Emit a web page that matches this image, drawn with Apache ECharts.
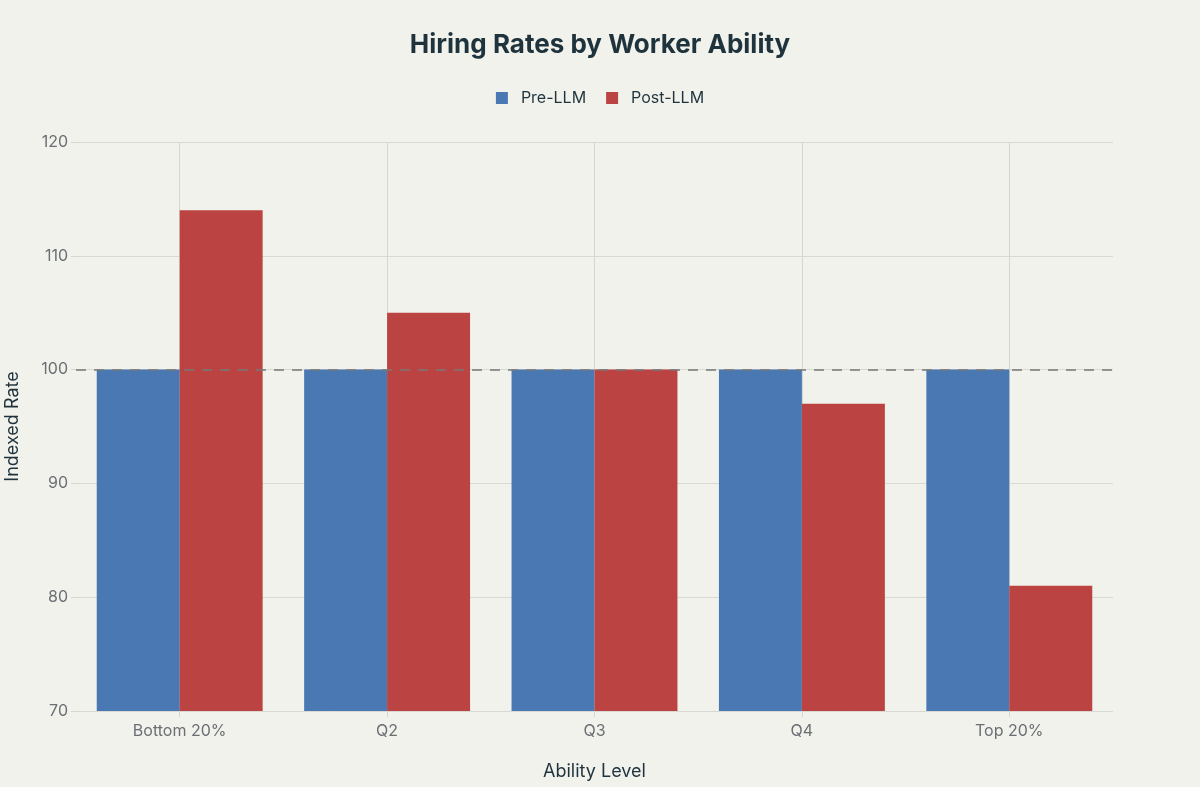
<!DOCTYPE html>
<html><head><meta charset="utf-8">
<script src="https://cdn.jsdelivr.net/npm/echarts@6/dist/echarts.min.js"></script>
<style>html,body{margin:0;padding:0;background:#f2f2ed;}#c{width:1200px;height:787px;}</style>
</head><body><div id="c"></div>
<script>
const categories = ['Bottom 20%', 'Q2', 'Q3', 'Q4', 'Top 20%'];
const preLLM = [100, 100, 100, 100, 100];
const postLLM = [114, 105, 100, 97, 81];
const yTicks = { min: 70, max: 120, interval: 10 };
const baseline = 100;

const chart = echarts.init(document.getElementById('c'));
chart.setOption({
  backgroundColor: '#f2f2ed',
  animation: false,
  textStyle: { fontFamily: 'Inter, "Noto Sans", sans-serif' },
  title: {
    text: 'Hiring Rates by Worker Ability',
    left: 'center', top: 27,
    textStyle: { fontSize: 26, fontWeight: 'bold', color: '#1f333d', fontFamily: 'Inter, sans-serif' }
  },
  legend: {
    top: 85, left: 'center',
    itemWidth: 12, itemHeight: 12, itemGap: 20,
    icon: 'rect',
    textStyle: { fontSize: 16, color: '#1f333d', padding: [0, 0, 0, 8] },
    data: ['Pre-LLM', 'Post-LLM']
  },
  grid: { left: 76, right: 87, top: 142, bottom: 76, containLabel: false, outerBoundsMode: 'none' },
  xAxis: {
    type: 'category', data: categories,
    name: 'Ability Level', nameLocation: 'middle', nameGap: 52,
    nameTextStyle: { fontSize: 18, color: '#1f333d' },
    axisLine: { show: false },
    axisTick: { show: true, alignWithLabel: true, length: 6, lineStyle: { color: '#d6d6d0' } },
    axisLabel: { fontSize: 16, color: '#6b6f73', margin: 12 },
    splitLine: { show: true, alignWithLabel: true, lineStyle: { color: '#d6d6d0', width: 1 } }
  },
  yAxis: {
    type: 'value', min: yTicks.min, max: yTicks.max, interval: yTicks.interval,
    name: 'Indexed Rate', nameLocation: 'middle', nameGap: 54,
    nameTextStyle: { fontSize: 18, color: '#1f333d' },
    axisLine: { show: false },
    axisTick: { show: true, length: 5, lineStyle: { color: '#d6d6d0' } },
    axisLabel: { fontSize: 16, color: '#6b6f73', margin: 8 },
    splitLine: { show: true, lineStyle: { color: '#d9d9d3', width: 1 } }
  },
  series: [
    {
      name: 'Pre-LLM', type: 'bar', data: preLLM,
      itemStyle: { color: '#4a78b3' },
      barGap: '0%', barCategoryGap: '20%',
      markLine: {
        symbol: 'none', silent: true, label: { show: false },
        lineStyle: { color: '#777777', type: [10, 8], width: 1.5 },
        data: [{ yAxis: baseline }]
      }
    },
    {
      name: 'Post-LLM', type: 'bar', data: postLLM,
      itemStyle: { color: '#bb4442' },
      barGap: '0%', barCategoryGap: '20%'
    }
  ]
});
</script></body></html>
